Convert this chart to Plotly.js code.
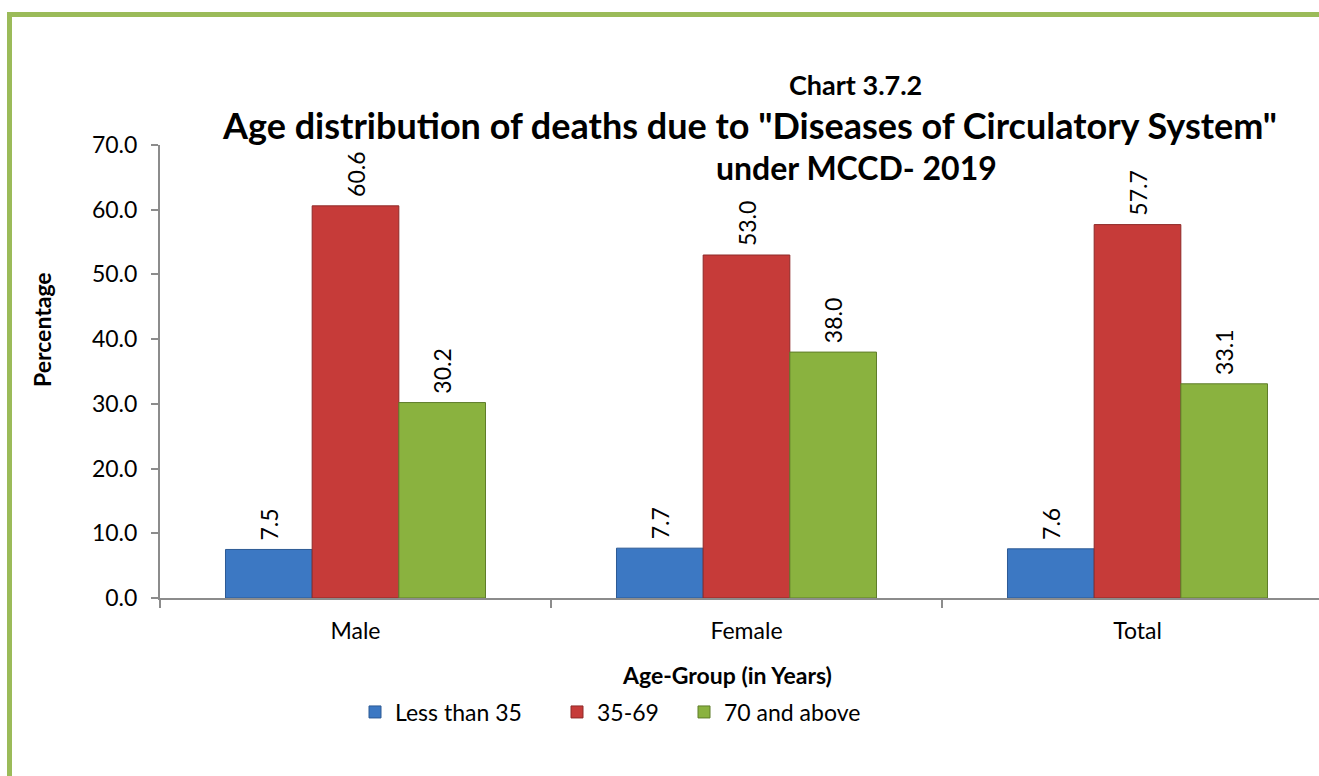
<!DOCTYPE html>
<html>
<head>
<meta charset="utf-8">
<script src="https://cdn.plot.ly/plotly-3.0.1.min.js"></script>
<style>
html,body{margin:0;padding:0;background:#fff;overflow:hidden;width:1319px;height:776px;}
#frame{position:absolute;left:7px;top:12px;width:1400px;height:900px;border-left:5px solid #9BBB59;border-top:5px solid #9BBB59;box-sizing:border-box;pointer-events:none;z-index:5;}
#chart{position:absolute;left:0;top:0;}
</style>
</head>
<body>
<div id="chart"></div>
<div id="frame"></div>
<script>
const categories = ["Male", "Female", "Total"];
const seriesNames = ["Less than 35", "35-69", "70 and above"];
const lessThan35 = [7.5, 7.7, 7.6];
const age35to69 = [60.6, 53.0, 57.7];
const age70plus = [30.2, 38.0, 33.1];
const yTicks = [0, 10, 20, 30, 40, 50, 60, 70];
const titleLines = ["Chart 3.7.2", "Age distribution of deaths due to \"Diseases of Circulatory System\"", "under MCCD- 2019"];

const FONT = "Lato, 'Open Sans', sans-serif";
const fills = ["#3C78C3", "#C63B39", "#8AB23F"];
const lines = ["#2C5A94", "#8E2A28", "#5F7D2A"];
const values = [lessThan35, age35to69, age70plus];
const legendIds = ["legend", "legend2", "legend3"];

const W = 1345, H = 776;
const L = 160, R = 1333, T = 145, B = 598;
const px = x => (x - L) / (R - L);
const py = y => (B - y) / (B - T);

const traces = values.map((v, i) => ({
  type: "bar",
  name: seriesNames[i],
  legend: legendIds[i],
  x: categories,
  y: v,
  marker: {color: fills[i], line: {color: lines[i], width: 1}},
  text: v.map(d => "\u00A0" + d.toFixed(1)),
  textposition: "outside",
  textangle: -90,
  textfont: {family: FONT, size: 23, color: "#000"},
  cliponaxis: false,
  hoverinfo: "x+y+name"
}));

const legendBase = {orientation: "h", xanchor: "left", y: py(712), yanchor: "middle",
  font: {family: FONT, size: 23, color: "#000"}, itemwidth: 30, bgcolor: "rgba(0,0,0,0)"};
const legendX = [355, 557, 684];

const layout = {
  width: W, height: H,
  margin: {l: L, r: W - R, t: T, b: H - B, pad: 0},
  paper_bgcolor: "#fff", plot_bgcolor: "#fff",
  font: {family: FONT, size: 23, color: "#000"},
  barmode: "group",
  bargap: 0.335,
  bargroupgap: 0,
  showlegend: true,
  legend: Object.assign({}, legendBase, {x: px(legendX[0])}),
  legend2: Object.assign({}, legendBase, {x: px(legendX[1])}),
  legend3: Object.assign({}, legendBase, {x: px(legendX[2])}),
  xaxis: {
    showline: true, linecolor: "#8C8C8C", linewidth: 2,
    ticks: "outside", tickson: "boundaries", ticklen: 8, tickcolor: "#8C8C8C", tickwidth: 2,
    tickfont: {family: FONT, size: 23}, ticklabelstandoff: 11,
    showgrid: false, zeroline: false, fixedrange: true
  },
  yaxis: {
    range: [0, 70], tickvals: yTicks, ticktext: yTicks.map(t => t.toFixed(1)),
    showline: true, linecolor: "#8C8C8C", linewidth: 2,
    ticks: "outside", ticklen: 7, tickcolor: "#8C8C8C", tickwidth: 2,
    tickfont: {family: FONT, size: 23}, ticklabelstandoff: 9,
    showgrid: false, zeroline: false, fixedrange: true
  },
  annotations: [
    {text: "<b>" + titleLines[0] + "</b>", xref: "paper", yref: "paper", x: px(855), y: py(84), xanchor: "center", yanchor: "middle", showarrow: false, font: {family: FONT, size: 27}},
    {text: "<b>" + titleLines[1] + "</b>", xref: "paper", yref: "paper", x: px(749), y: py(125), xanchor: "center", yanchor: "middle", showarrow: false, font: {family: FONT, size: 36}},
    {text: "<b>" + titleLines[2] + "</b>", xref: "paper", yref: "paper", x: px(856), y: py(167), xanchor: "center", yanchor: "middle", showarrow: false, font: {family: FONT, size: 32}},
    {text: "<b>Percentage</b>", xref: "paper", yref: "paper", x: px(42), y: py(330), xanchor: "center", yanchor: "middle", textangle: -90, showarrow: false, font: {family: FONT, size: 23}},
    {text: "<b>Age-Group (in Years)</b>", xref: "paper", yref: "paper", x: px(727), y: py(675), xanchor: "center", yanchor: "middle", showarrow: false, font: {family: FONT, size: 23}}
  ]
};

Plotly.newPlot("chart", traces, layout, {displayModeBar: false});
</script>
</body>
</html>
